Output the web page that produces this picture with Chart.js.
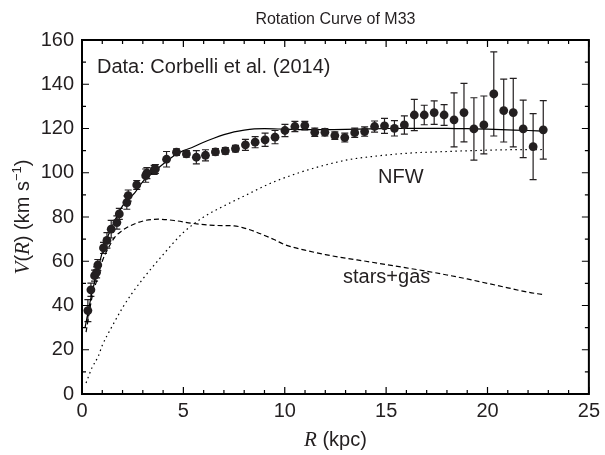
<!DOCTYPE html>
<html>
<head>
<meta charset="utf-8">
<script src="https://cdn.jsdelivr.net/npm/chart.js@4.4.0/dist/chart.umd.min.js"></script>
<style>
  html, body { margin: 0; padding: 0; background: #fff; }
  #wrap { width: 605px; height: 455px; position: relative; }
</style>
</head>
<body>
<div id="wrap"><canvas id="c" width="605" height="455"></canvas></div>
<script>
// ---- Observed data (Corbelli et al. 2014) ----
const obsR = [0.29, 0.44, 0.62, 0.72, 0.78, 1.06, 1.23, 1.44, 1.72, 1.84, 2.21, 2.28, 2.70, 3.14, 3.20, 3.56, 3.62,
  4.17, 4.66, 5.15, 5.64, 6.09, 6.58, 7.07, 7.57, 8.06, 8.54, 9.03, 9.52, 10.01, 10.50, 10.99, 11.48, 11.98,
  12.47, 12.96, 13.45, 13.94, 14.43, 14.92, 15.41, 15.90, 16.39, 16.88, 17.37, 17.86, 18.35, 18.84, 19.33,
  19.82, 20.31, 20.80, 21.27, 21.76, 22.25, 22.75];
const obsV = [37.7, 47.1, 53.5, 55.0, 58.3, 66.0, 69.4, 74.5, 77.5, 81.4, 86.5, 89.7, 94.5, 98.7, 99.8, 101.3, 101.7,
  106.1, 109.3, 108.5, 107.0, 107.9, 109.4, 109.9, 110.9, 112.6, 113.8, 114.9, 116.1, 119.1, 120.9, 121.3, 118.3, 118.3,
  116.8, 115.9, 118.1, 118.6, 120.9, 121.2, 120.1, 121.6, 126.1, 126.1, 127.2, 126.1, 123.9, 127.2, 119.8,
  121.6, 135.6, 128.1, 127.2, 119.8, 111.8, 119.4];
const obsErr = [5.0, 3.0, 2.5, 2.5, 2.5, 2.5, 3.5, 4.0, 3.0, 2.5, 3.0, 2.5, 2.0, 3.0, 2.5, 2.0, 2.0,
  3.5, 1.5, 1.5, 3.0, 2.5, 1.5, 1.5, 1.5, 2.5, 2.5, 3.0, 3.0, 2.8, 2.3, 1.9, 1.9, 1.7,
  1.7, 2.0, 2.1, 2.1, 2.5, 3.4, 3.5, 4.1, 7.1, 4.4, 5.3, 4.7, 12.2, 13.2, 14.1,
  13.1, 19.0, 14.2, 15.5, 13.0, 14.9, 13.2];

// ---- Model curves ----
const totalR = [0.15, 0.3, 0.5, 0.75, 1.0, 1.14, 1.5, 2.0, 2.61, 3.0, 3.75, 4.08, 4.5, 5.0, 5.4, 6.0, 6.5, 7.0, 7.5, 8.0, 8.5, 9.0, 10, 11, 12, 13, 14, 15, 16, 17, 18, 19, 20, 21, 22, 22.7];
const totalV = [30, 37, 46, 55, 64, 68, 76, 85, 91, 96, 102, 104.5, 107.5, 110, 111.3, 113.8, 115.6, 117.2, 118.5, 119.3, 119.8, 119.9, 119.7, 119.5, 119.5, 119.6, 119.8, 120.0, 120.1, 120.1, 120.1, 119.9, 119.7, 119.4, 119.1, 118.8];

const nfwR = [0.2, 0.5, 0.8, 1.0, 1.45, 2.0, 2.43, 3.0, 4.0, 5.0, 6.0, 7.0, 8.0, 9.0, 9.5, 10.7, 12, 13.2, 14, 15, 16, 18, 20, 21, 22.7];
const nfwV = [5, 12, 17, 22, 30, 39, 45, 52, 63, 73, 80, 85, 89.5, 94, 96, 100, 103.5, 106, 107, 108, 108.8, 109.6, 110.2, 110.4, 110.5];

const barR = [0.2, 0.5, 0.75, 1.0, 1.3, 1.63, 2.0, 2.3, 3.1, 3.76, 4.57, 5.4, 6.5, 7.5, 8.0, 8.5, 9.5, 10, 11, 12, 13, 14, 15, 16, 17, 18, 19, 20, 21, 22, 22.7];
const barV = [28, 44, 52, 60, 66, 71, 74, 75.7, 78.4, 79, 78.4, 77.2, 76.2, 76, 75, 73.5, 69.7, 67.5, 65, 63, 61.4, 60, 58.5, 57, 55.5, 53.8, 52, 50, 48, 46, 45];

// ---- Axis ticks ----
const xTicks = [0, 5, 10, 15, 20, 25];
const yTicks = [0, 20, 40, 60, 80, 100, 120, 140, 160];

const SANS = '"Liberation Sans", Arial, Helvetica, sans-serif';
const SERIF = '"Liberation Serif", "Times New Roman", serif';
const INK = '#231f20';

function toXY(xs, ys) { return xs.map((x, i) => ({ x: x, y: ys[i] })); }

const decor = {
  id: 'decor',
  beforeDatasetsDraw(chart) {
    const ctx = chart.ctx, xs = chart.scales.x, ys = chart.scales.y;
    ctx.save();
    ctx.strokeStyle = INK;
    ctx.lineWidth = 1.2;
    obsR.forEach((r, i) => {
      const px = xs.getPixelForValue(r);
      const y1 = ys.getPixelForValue(obsV[i] - obsErr[i]);
      const y2 = ys.getPixelForValue(obsV[i] + obsErr[i]);
      ctx.beginPath();
      ctx.moveTo(px, y1); ctx.lineTo(px, y2);
      ctx.moveTo(px - 3.5, y1); ctx.lineTo(px + 3.5, y1);
      ctx.moveTo(px - 3.5, y2); ctx.lineTo(px + 3.5, y2);
      ctx.stroke();
    });
    ctx.restore();
  },
  afterDraw(chart) {
    const ctx = chart.ctx, a = chart.chartArea, xs = chart.scales.x, ys = chart.scales.y;
    ctx.save();
    // frame
    ctx.strokeStyle = '#000';
    ctx.lineWidth = 2;
    ctx.strokeRect(a.left, a.top, a.right - a.left, a.bottom - a.top);
    // ticks (inward, all four sides)
    ctx.lineWidth = 1.2;
    ctx.beginPath();
    for (let v = 0; v <= 25; v += 1) {
      const px = xs.getPixelForValue(v);
      const len = (v % 5 === 0) ? 7 : 4;
      ctx.moveTo(px, a.bottom); ctx.lineTo(px, a.bottom - len);
      ctx.moveTo(px, a.top); ctx.lineTo(px, a.top + len);
    }
    for (let v = 0; v <= 160; v += 10) {
      const py = ys.getPixelForValue(v);
      const len = (v % 20 === 0) ? 7 : 4;
      ctx.moveTo(a.left, py); ctx.lineTo(a.left + len, py);
      ctx.moveTo(a.right, py); ctx.lineTo(a.right - len, py);
    }
    ctx.stroke();

    ctx.fillStyle = INK;
    ctx.textBaseline = 'alphabetic';
    // title
    ctx.font = '16px ' + SANS;
    ctx.textAlign = 'center';
    ctx.fillText('Rotation Curve of M33', (a.left + a.right) / 2, 24);
    // annotations
    ctx.textAlign = 'left';
    ctx.font = '20px ' + SANS;
    ctx.fillText('Data: Corbelli et al. (2014)', 97, 73);
    ctx.fillText('NFW', 378, 183);
    ctx.fillText('stars+gas', 343, 283);

    // x axis title: R (kpc)
    const xParts = [
      { t: 'R', f: 'italic 21px ' + SERIF },
      { t: ' (kpc)', f: '20px ' + SANS }
    ];
    let w = 0;
    xParts.forEach(p => { ctx.font = p.f; p.w = ctx.measureText(p.t).width; w += p.w; });
    let cx = (a.left + a.right) / 2 - w / 2;
    xParts.forEach(p => { ctx.font = p.f; ctx.fillText(p.t, cx, 446); cx += p.w; });

    // y axis title: V(R) (km s^-1)
    const yParts = [
      { t: 'V', f: 'italic 21px ' + SERIF, dy: 0 },
      { t: '(', f: '20px ' + SANS, dy: 0 },
      { t: 'R', f: 'italic 21px ' + SERIF, dy: 0 },
      { t: ') (km s', f: '20px ' + SANS, dy: 0 },
      { t: '\u22121', f: '13px ' + SANS, dy: -8 },
      { t: ')', f: '20px ' + SANS, dy: 0 }
    ];
    w = 0;
    yParts.forEach(p => { ctx.font = p.f; p.w = ctx.measureText(p.t).width; w += p.w; });
    ctx.translate(29, (a.top + a.bottom) / 2);
    ctx.rotate(-Math.PI / 2);
    cx = -w / 2;
    yParts.forEach(p => { ctx.font = p.f; ctx.fillText(p.t, cx, p.dy); cx += p.w; });
    ctx.restore();
  }
};

new Chart(document.getElementById('c'), {
  type: 'scatter',
  data: {
    datasets: [
      {
        label: 'data',
        data: toXY(obsR, obsV),
        pointRadius: 4.4,
        pointBackgroundColor: INK,
        pointBorderColor: INK,
        pointBorderWidth: 0,
        showLine: false,
        order: 0
      },
      {
        label: 'total',
        data: toXY(totalR, totalV),
        showLine: true,
        pointRadius: 0,
        borderColor: '#000',
        borderWidth: 1.2,
        cubicInterpolationMode: 'monotone',
        order: 1
      },
      {
        label: 'NFW',
        data: toXY(nfwR, nfwV),
        showLine: true,
        pointRadius: 0,
        borderColor: '#000',
        borderWidth: 1.2,
        borderDash: [1.5, 3.5],
        cubicInterpolationMode: 'monotone',
        order: 2
      },
      {
        label: 'stars+gas',
        data: toXY(barR, barV),
        showLine: true,
        pointRadius: 0,
        borderColor: '#000',
        borderWidth: 1.2,
        borderDash: [5, 3],
        cubicInterpolationMode: 'monotone',
        order: 3
      }
    ]
  },
  options: {
    responsive: false,
    animation: false,
    events: [],
    layout: { padding: { left: 0, right: 13, top: 40, bottom: 0 } },
    plugins: { legend: { display: false }, title: { display: false }, tooltip: { enabled: false } },
    scales: {
      x: {
        type: 'linear', min: 0, max: 25,
        afterBuildTicks: s => { s.ticks = xTicks.map(v => ({ value: v })); },
        afterFit: s => { s.height = 61; },
        grid: { display: false, drawTicks: false },
        border: { display: false },
        ticks: { padding: 5, color: INK, font: { family: SANS, size: 20 }, maxRotation: 0 }
      },
      y: {
        type: 'linear', min: 0, max: 160,
        afterBuildTicks: s => { s.ticks = yTicks.map(v => ({ value: v })); },
        afterFit: s => { s.width = 82; },
        grid: { display: false, drawTicks: false },
        border: { display: false },
        ticks: { padding: 8, color: INK, font: { family: SANS, size: 20 } }
      }
    }
  },
  plugins: [decor]
});
</script>
</body>
</html>
